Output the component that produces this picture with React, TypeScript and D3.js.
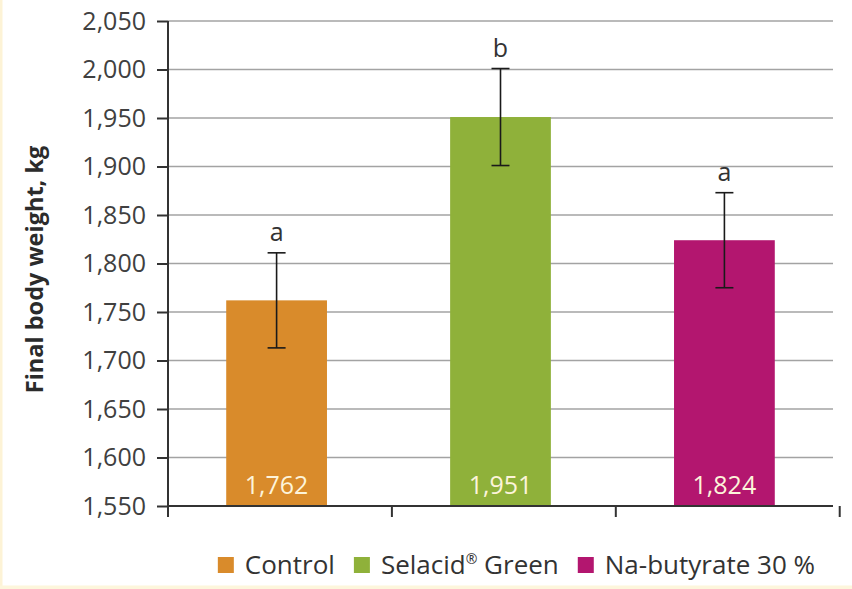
import { useEffect, useRef } from "react";
import * as d3 from "d3";

const categories = ["Control", "Selacid® Green", "Na-butyrate 30 %"];
const values = [1762, 1951, 1824];
const errors = [49, 50, 49];
const letters = ["a", "b", "a"];
const valueLabels = ["1,762", "1,951", "1,824"];
const yTicks = [1550, 1600, 1650, 1700, 1750, 1800, 1850, 1900, 1950, 2000, 2050];
const COLORS = ["#d98b2b", "#8fb13a", "#b3166f"];

const W = 852;
const H = 589;
const M = { top: 21, right: 19, bottom: 83, left: 168 };
const FONT = "'Open Sans', sans-serif";
const FS = 25;

export default function App() {
  const ref = useRef<SVGSVGElement | null>(null);

  useEffect(() => {
    const svg = d3.select(ref.current);
    svg.selectAll("*").remove();

    const x = d3
      .scaleBand<string>()
      .domain(categories)
      .range([M.left, W - M.right])
      .paddingInner(0.55)
      .paddingOuter(0.26);
    const y = d3.scaleLinear().domain([1550, 2050]).range([H - M.bottom, M.top]);
    const fmt = d3.format(",");

    svg.append("rect").attr("width", W).attr("height", H).attr("fill", "#fff");
    // cream frame remnants at left and bottom
    svg.append("rect").attr("x", 0).attr("y", 0).attr("width", 2.5).attr("height", H).attr("fill", "#fdf3d6");
    svg.append("rect").attr("x", 0).attr("y", H - 3.5).attr("width", W).attr("height", 3.5).attr("fill", "#fdf6dc");

    // gridlines
    svg
      .append("g")
      .selectAll("line")
      .data(yTicks.slice(1))
      .join("line")
      .attr("x1", M.left)
      .attr("x2", W - M.right)
      .attr("y1", (d) => y(d))
      .attr("y2", (d) => y(d))
      .attr("stroke", "#a3a3a3")
      .attr("stroke-width", 1.5);

    // y axis
    const yAxis = svg
      .append("g")
      .attr("transform", `translate(${M.left},0)`)
      .call(
        d3
          .axisLeft(y)
          .tickValues(yTicks)
          .tickSize(11)
          .tickPadding(11)
          .tickFormat((d) => fmt(d as number))
      );
    yAxis.select(".domain").remove();
    yAxis.selectAll(".tick line").attr("stroke", "#333").attr("stroke-width", 2);
    yAxis
      .selectAll(".tick text")
      .attr("font-family", FONT)
      .attr("font-size", FS)
      .attr("fill", "#404040");

    // bars
    svg
      .append("g")
      .selectAll("rect")
      .data(values)
      .join("rect")
      .attr("x", (_, i) => x(categories[i])!)
      .attr("width", x.bandwidth())
      .attr("y", (d) => y(d))
      .attr("height", (d) => y(1550) - y(d))
      .attr("fill", (_, i) => COLORS[i]);

    // value labels inside bars
    svg
      .append("g")
      .selectAll("text")
      .data(valueLabels)
      .join("text")
      .attr("x", (_, i) => x(categories[i])! + x.bandwidth() / 2)
      .attr("y", y(1550) - 12)
      .attr("text-anchor", "middle")
      .attr("font-family", FONT)
      .attr("font-size", FS)
      .attr("fill", "#fdf4da")
      .text((d) => d);

    // error bars
    const eb = svg.append("g").attr("stroke", "#1a1a1a").attr("stroke-width", 1.6);
    values.forEach((v, i) => {
      const cx = x(categories[i])! + x.bandwidth() / 2;
      const y1 = y(v + errors[i]);
      const y0 = y(v - errors[i]);
      eb.append("line").attr("x1", cx).attr("x2", cx).attr("y1", y1).attr("y2", y0);
      eb.append("line").attr("x1", cx - 9).attr("x2", cx + 9).attr("y1", y1).attr("y2", y1);
      eb.append("line").attr("x1", cx - 9).attr("x2", cx + 9).attr("y1", y0).attr("y2", y0);
      svg
        .append("text")
        .attr("x", cx)
        .attr("y", y1 - 12)
        .attr("text-anchor", "middle")
        .attr("font-family", FONT)
        .attr("font-size", FS)
        .attr("fill", "#333")
        .text(letters[i]);
    });

    // axes lines
    const base = y(1550);
    svg
      .append("line")
      .attr("x1", M.left)
      .attr("x2", W - M.right)
      .attr("y1", base)
      .attr("y2", base)
      .attr("stroke", "#333")
      .attr("stroke-width", 2);
    const step = x.step();
    const bounds = d3.range(categories.length + 1).map((i) => M.left + i * step);
    svg
      .append("g")
      .selectAll("line")
      .data(bounds)
      .join("line")
      .attr("x1", (d) => d)
      .attr("x2", (d) => d)
      .attr("y1", (_, i) => (i === 0 ? M.top : base))
      .attr("y2", base + 11)
      .attr("stroke", "#333")
      .attr("stroke-width", 2);

    // y title
    svg
      .append("text")
      .attr("transform", `translate(43,${(M.top + base) / 2 + 6}) rotate(-90)`)
      .attr("text-anchor", "middle")
      .attr("font-family", FONT)
      .attr("font-weight", "bold")
      .attr("font-size", 23.5)
      .attr("fill", "#2b2b2b")
      .text("Final body weight, kg");

    // legend
    const lg = svg.append("g");
    let lx = 0;
    categories.forEach((c, i) => {
      const item = lg.append("g").attr("transform", `translate(${lx},0)`);
      item.append("rect").attr("x", 0).attr("y", -17).attr("width", 16).attr("height", 16).attr("fill", COLORS[i]);
      const t = item
        .append("text")
        .attr("x", 27)
        .attr("y", 0)
        .attr("font-family", FONT)
        .attr("font-size", 26)
        .attr("fill", "#333");
      if (c.includes("®")) {
        const [a, b] = c.split("®");
        t.append("tspan").text(a);
        t.append("tspan").attr("font-size", 14).attr("dy", -10).text("®");
        t.append("tspan").attr("dy", 10).text(b);
      } else {
        t.text(c);
      }
      const w = (t.node() as SVGTextElement).getComputedTextLength();
      lx += 27 + w + 19;
    });
    const lw = lx - 19;
    lg.attr("transform", `translate(${W - 37 - lw},574)`);
  }, []);

  return (
    <svg
      ref={ref}
      width={W}
      height={H}
      style={{ position: "absolute", left: 0, top: 0, display: "block" }}
    />
  );
}
